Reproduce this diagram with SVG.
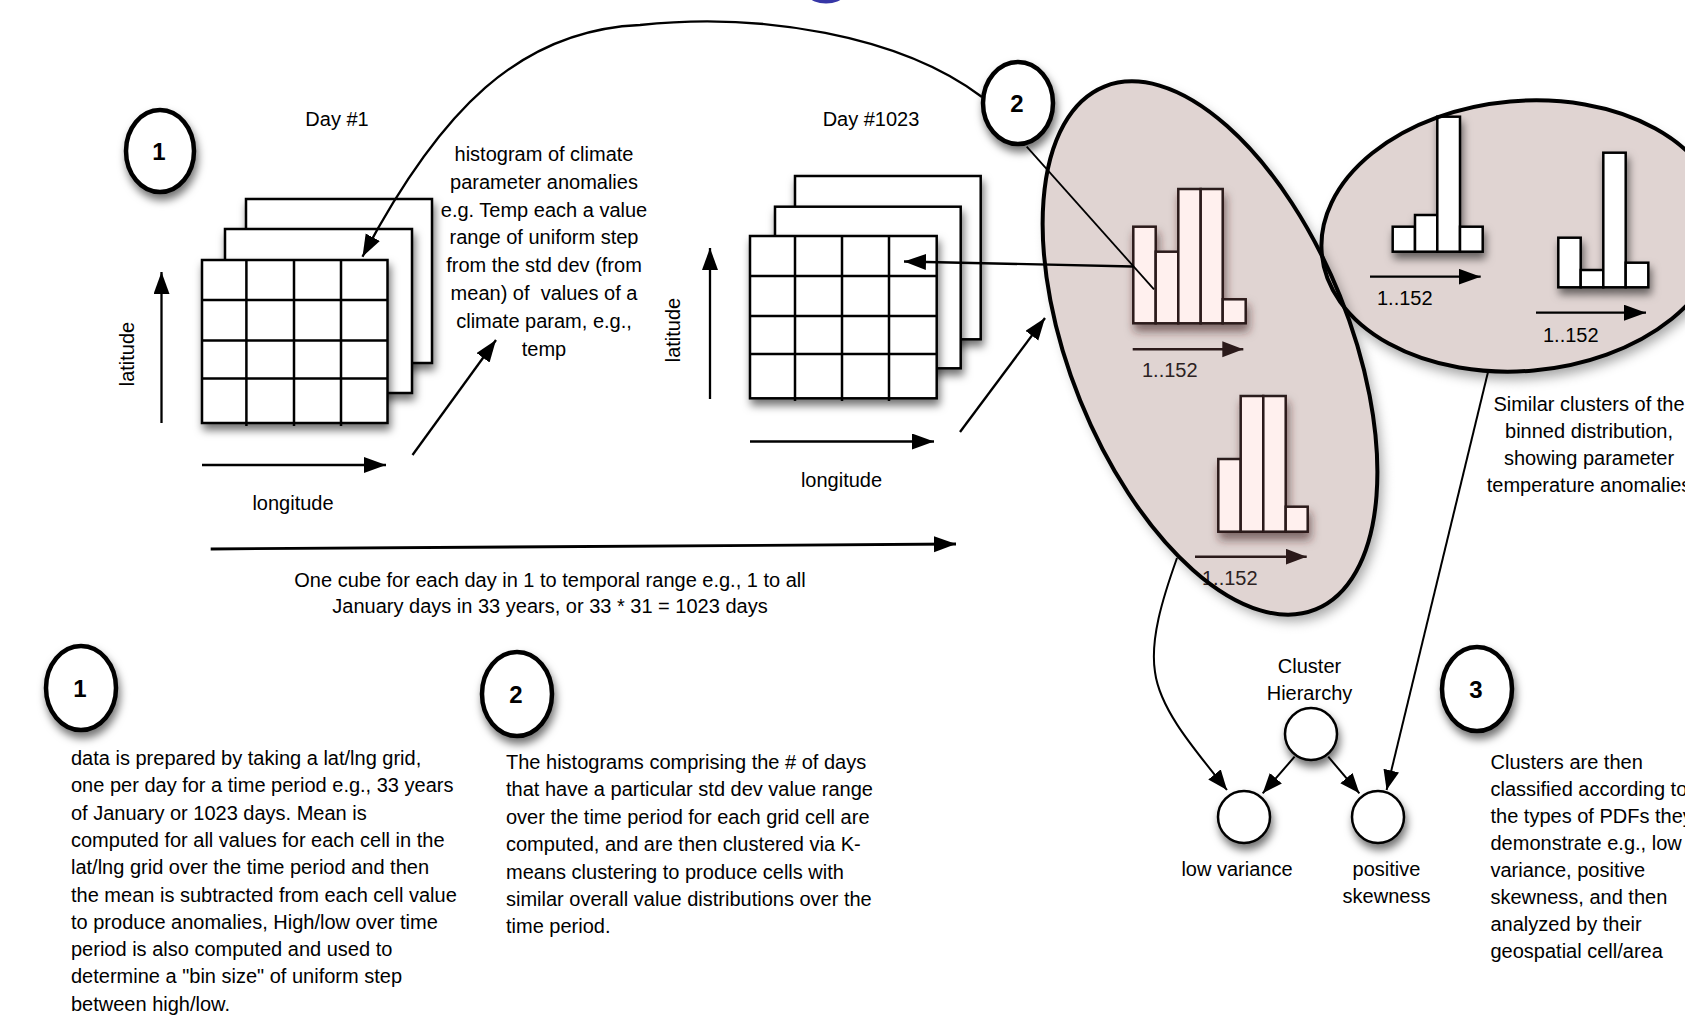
<svg xmlns="http://www.w3.org/2000/svg" width="1685" height="1017" viewBox="0 0 1685 1017">
<defs>
<style>
text{font-family:"Liberation Sans",Arial,sans-serif;font-size:20px;fill:#000}
.c{text-anchor:middle}
.num{font-size:24px;font-weight:bold;text-anchor:middle}
.lbl{fill:#2b2222}
.sheet{fill:#fff;stroke:#000;stroke-width:2.5}
.grid{stroke:#000;stroke-width:2.5;fill:none}
.ln{stroke:#000;stroke-width:2.3;fill:none}
.thin{stroke:#000;stroke-width:1.8;fill:none}
.arr{stroke:#000;stroke-width:2.3;fill:none;marker-end:url(#ah)}
.barr{stroke:#2b1a1a;stroke-width:2.5;fill:none;marker-end:url(#bh)}
.sarr{stroke:#000;stroke-width:2;fill:none;marker-end:url(#sh2)}
.badge{fill:#fff;stroke:#000;stroke-width:4.5}
.node{fill:#fff;stroke:#000;stroke-width:2.5}
.pbar{fill:#fff0ee;stroke:#2b1a1a;stroke-width:2.5}
.wbar{fill:#fff;stroke:#000;stroke-width:2.5}
.clu{fill:#e0d4d2}
.cluo{fill:none;stroke:#000;stroke-width:4}
</style>
<filter id="ds" x="-30%" y="-30%" width="170%" height="170%">
<feDropShadow dx="2" dy="6" stdDeviation="4" flood-color="#000" flood-opacity="0.55"/>
</filter>
<filter id="dsb" x="-30%" y="-30%" width="170%" height="170%">
<feDropShadow dx="2" dy="7" stdDeviation="5" flood-color="#3a1f1f" flood-opacity="0.6"/>
</filter>
<filter id="dse" x="-10%" y="-10%" width="125%" height="125%">
<feDropShadow dx="2" dy="8" stdDeviation="6" flood-color="#000" flood-opacity="0.35"/>
</filter>
<marker id="ah" markerUnits="userSpaceOnUse" markerWidth="24" markerHeight="18" refX="22" refY="8" orient="auto">
<path d="M0,0 L22,8 L0,16 z" fill="#000"/>
</marker>
<marker id="bh" markerUnits="userSpaceOnUse" markerWidth="24" markerHeight="18" refX="21" refY="8" orient="auto">
<path d="M0,0 L21,8 L0,16 z" fill="#2b1a1a"/>
</marker>
<marker id="sh2" markerUnits="userSpaceOnUse" markerWidth="22" markerHeight="18" refX="20" refY="8" orient="auto">
<path d="M0,0 L20,8 L0,16 z" fill="#000"/>
</marker>
</defs>
<rect width="1685" height="1017" fill="#fff"/>

<ellipse cx="826" cy="-3" rx="16" ry="6.5" fill="#3636a6"/>

<g id="cube-day1">
<rect class="sheet" x="246" y="199" width="186" height="164" filter="url(#ds)"/>
<rect class="sheet" x="225" y="229" width="187" height="164" filter="url(#ds)"/>
<rect class="sheet" x="202" y="260" width="185.5" height="163" filter="url(#ds)"/>
<path class="grid" d="M246.4,260V426 M294,260V426 M341,260V426 M202,300H387.5 M202,340.5H387.5 M202,378.5H387.5"/>
<path class="ln" d="M161.5,423V272" marker-end="url(#ah)"/>
<path class="ln" d="M202,465H386" marker-end="url(#ah)"/>
<text class="c" x="337" y="126">Day #1</text>
<text class="c" transform="translate(134,354) rotate(-90)">latitude</text>
<text class="c" x="293" y="510">longitude</text>
</g>

<g id="cube-day1023">
<rect class="sheet" x="795" y="176" width="185.7" height="163.3" filter="url(#ds)"/>
<rect class="sheet" x="775" y="206.7" width="185.7" height="161.6" filter="url(#ds)"/>
<rect class="sheet" x="750" y="236" width="186.7" height="162.3" filter="url(#ds)"/>
<path class="grid" d="M795,236V401 M842,236V401 M889,236V401 M750,276H936.7 M750,316H936.7 M750,354H936.7"/>
<path class="ln" d="M710,399V248" marker-end="url(#ah)"/>
<path class="ln" d="M750,441.5H934" marker-end="url(#ah)"/>
<text class="c" x="871" y="126">Day #1023</text>
<text class="c" transform="translate(680,330) rotate(-90)">latitude</text>
<text class="c" x="841.5" y="487">longitude</text>
</g>

<g id="histogram-note">
<text class="c" x="544" y="161">histogram of climate</text>
<text class="c" x="544" y="188.8">parameter anomalies</text>
<text class="c" x="544" y="216.6">e.g. Temp each a value</text>
<text class="c" x="544" y="244.4">range of uniform step</text>
<text class="c" x="544" y="272.2">from the std dev (from</text>
<text class="c" x="544" y="300" xml:space="preserve">mean) of  values of a</text>
<text class="c" x="544" y="327.8">climate param, e.g.,</text>
<text class="c" x="544" y="355.6">temp</text>
</g>

<g id="timeline-note">
<text class="c" x="550" y="587">One cube for each day in 1 to temporal range e.g., 1 to all</text>
<text class="c" x="550" y="613">January days in 33 years, or 33 * 31 = 1023 days</text>
</g>

<g id="cluster-shapes">
<ellipse class="clu" cx="1522" cy="236" rx="201" ry="135" transform="rotate(-5 1522 236)" filter="url(#dse)"/>
<ellipse class="clu" cx="1210" cy="348" rx="140" ry="282" transform="rotate(-22 1210 348)" filter="url(#dse)"/>
</g>

<g id="cluster-a">
<g filter="url(#dsb)">
<rect class="pbar" x="1133.3" y="226.7" width="22.4" height="96.6"/>
<rect class="pbar" x="1155.7" y="251.7" width="22.6" height="71.6"/>
<rect class="pbar" x="1178.3" y="189" width="22.4" height="134.3"/>
<rect class="pbar" x="1200.7" y="189" width="22" height="134.3"/>
<rect class="pbar" x="1222.7" y="299.3" width="23" height="24"/>
</g>
<path class="barr" d="M1132.7,349.3H1243.3"/>
<text class="lbl" x="1142" y="377">1..152</text>
<g filter="url(#dsb)">
<rect class="pbar" x="1218.3" y="459" width="22.4" height="72.7"/>
<rect class="pbar" x="1240.7" y="396" width="22.6" height="135.7"/>
<rect class="pbar" x="1263.3" y="396" width="22.4" height="135.7"/>
<rect class="pbar" x="1285.7" y="506.7" width="22" height="25"/>
</g>
<path class="barr" d="M1195,556.7H1306.7"/>
<text class="lbl" x="1202" y="585">1..152</text>
</g>

<g id="cluster-b">
<g filter="url(#ds)">
<rect class="wbar" x="1392.7" y="226.7" width="22.3" height="25"/>
<rect class="wbar" x="1415" y="215" width="22.3" height="36.7"/>
<rect class="wbar" x="1437.3" y="116.7" width="22.7" height="135"/>
<rect class="wbar" x="1460" y="226.7" width="22.7" height="25"/>
</g>
<path class="arr" d="M1370,276.7H1480.7"/>
<text x="1377" y="305">1..152</text>
<g filter="url(#ds)">
<rect class="wbar" x="1558.3" y="237.7" width="22.4" height="49.6"/>
<rect class="wbar" x="1580.7" y="270" width="22.6" height="17.3"/>
<rect class="wbar" x="1603.3" y="152.7" width="22.4" height="134.6"/>
<rect class="wbar" x="1625.7" y="262.7" width="22.6" height="24.6"/>
</g>
<path class="arr" d="M1536,312.7H1646"/>
<text x="1543" y="341.7">1..152</text>
</g>

<g id="cluster-outlines">
<ellipse class="cluo" cx="1522" cy="236" rx="201" ry="135" transform="rotate(-5 1522 236)"/>
<ellipse class="cluo" cx="1210" cy="348" rx="140" ry="282" transform="rotate(-22 1210 348)"/>
</g>

<g id="cluster-note">
<text class="c" x="1589" y="411">Similar clusters of the</text>
<text class="c" x="1589" y="438">binned distribution,</text>
<text class="c" x="1589" y="465">showing parameter</text>
<text class="c" x="1589" y="492">temperature anomalies</text>
</g>

<g id="connectors">
<path class="arr" d="M982,97 C900,35 760,12 640,25 C520,30 440,110 362.5,256.7"/>
<path class="thin" d="M1026.7,146.7 L1154,289.3"/>
<path class="arr" d="M1133,266.5 L904,261.5"/>
<path class="arr" d="M412.5,455 L496,340"/>
<path class="arr" d="M960,432 L1045,318"/>
<path class="arr" style="stroke-width:2.8" d="M210.7,549 L956,544"/>
<path class="sarr" d="M1177,558 C1162,600 1150,640 1155,672 C1160,710 1195,750 1227,790"/>
<path class="sarr" d="M1488,372 L1386.6,790"/>
<path class="sarr" d="M1294.6,756.7 L1262.7,793.3"/>
<path class="sarr" d="M1328.2,756.7 L1359.4,793.3"/>
</g>

<g id="badge-1-top"><ellipse class="badge" cx="160" cy="151" rx="34" ry="41" filter="url(#ds)"/><text class="num" x="159" y="160">1</text></g>
<g id="badge-2-top"><ellipse class="badge" cx="1018" cy="103" rx="35" ry="41" filter="url(#ds)"/><text class="num" x="1017" y="112">2</text></g>
<g id="badge-1-bottom"><ellipse class="badge" cx="81" cy="688" rx="35" ry="42" filter="url(#ds)"/><text class="num" x="80" y="697">1</text></g>
<g id="badge-2-bottom"><ellipse class="badge" cx="517" cy="694" rx="35" ry="42" filter="url(#ds)"/><text class="num" x="516" y="703">2</text></g>
<g id="badge-3"><ellipse class="badge" cx="1477" cy="689" rx="35" ry="42" filter="url(#ds)"/><text class="num" x="1476" y="698">3</text></g>

<g id="node-hierarchy"><circle class="node" cx="1311" cy="734" r="26" filter="url(#ds)"/>
<text class="c" x="1309.5" y="672.5">Cluster</text><text class="c" x="1309.5" y="699.5">Hierarchy</text></g>
<g id="node-low-variance"><circle class="node" cx="1244" cy="817" r="26" filter="url(#ds)"/>
<text class="c" x="1237" y="876">low variance</text></g>
<g id="node-positive-skewness"><circle class="node" cx="1378" cy="817" r="26" filter="url(#ds)"/>
<text class="c" x="1386.5" y="876">positive</text><text class="c" x="1386.5" y="903">skewness</text></g>

<g id="note-1">
<text x="71" y="765">data is prepared by taking a lat/lng grid,</text>
<text x="71" y="792.3">one per day for a time period e.g., 33 years</text>
<text x="71" y="819.6">of January or 1023 days. Mean is</text>
<text x="71" y="846.9">computed for all values for each cell in the</text>
<text x="71" y="874.2">lat/lng grid over the time period and then</text>
<text x="71" y="901.5">the mean is subtracted from each cell value</text>
<text x="71" y="928.8">to produce anomalies, High/low over time</text>
<text x="71" y="956.1">period is also computed and used to</text>
<text x="71" y="983.4">determine a "bin size" of uniform step</text>
<text x="71" y="1010.7">between high/low.</text>
</g>

<g id="note-2">
<text x="506" y="769">The histograms comprising the # of days</text>
<text x="506" y="796.4">that have a particular std dev value range</text>
<text x="506" y="823.8">over the time period for each grid cell are</text>
<text x="506" y="851.2">computed, and are then clustered via K-</text>
<text x="506" y="878.6">means clustering to produce cells with</text>
<text x="506" y="906">similar overall value distributions over the</text>
<text x="506" y="933.4">time period.</text>
</g>

<g id="note-3">
<text x="1490.5" y="769">Clusters are then</text>
<text x="1490.5" y="796">classified according to</text>
<text x="1490.5" y="823">the types of PDFs they</text>
<text x="1490.5" y="850">demonstrate e.g., low</text>
<text x="1490.5" y="877">variance, positive</text>
<text x="1490.5" y="904">skewness, and then</text>
<text x="1490.5" y="931">analyzed by their</text>
<text x="1490.5" y="958">geospatial cell/area</text>
</g>
</svg>
